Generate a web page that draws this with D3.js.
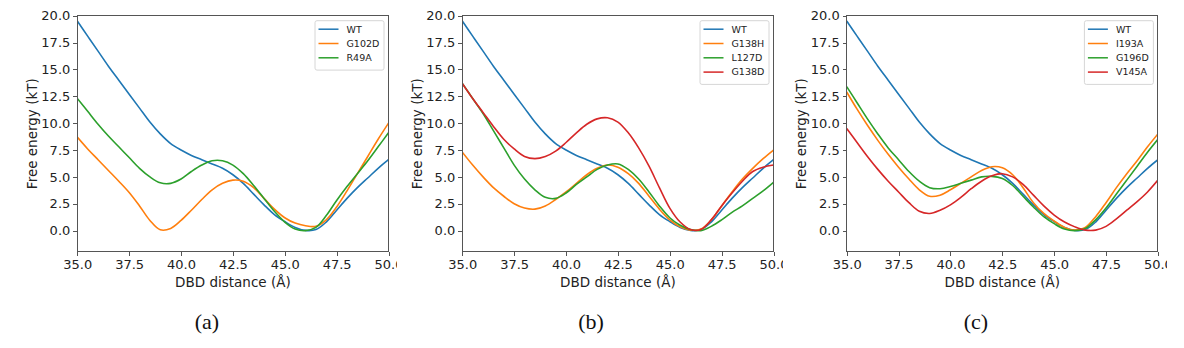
<!DOCTYPE html>
<meta charset="utf-8">
<style>
    body {
        margin: 0;
        background-color: #fff;
    }
    .axis text {
        font: 13px "DejaVu Sans", sans-serif;
        fill: #222;
    }
    .axis path,
    .axis line {
        fill: none;
        stroke: #555;
        stroke-width: 1px;
        shape-rendering: crispEdges;
    }
    .axis-title {
        font: 13.5px "DejaVu Sans", sans-serif;
        fill: #222;
    }
    .line {
        fill: none;
        stroke-width: 1.6px;
    }
    .legend text {
        font: 9.5px "DejaVu Sans", sans-serif;
        fill: #222;
    }
    .caption {
        font: 22px "Liberation Serif", serif;
        fill: #111;
    }
</style>
<body>
<script src="https://d3js.org/d3.v7.min.js"></script>
<script>
    // x grid (DBD distance, Å)
    var distance = [35, 35.5, 36, 36.5, 37, 37.5, 38, 38.5, 39, 39.5, 40, 40.5, 41, 41.5, 42, 42.5,
        43, 43.5, 44, 44.5, 45, 45.5, 46, 46.5, 47, 47.5, 48, 48.5, 49, 49.5, 50];

    var xTicks = [35, 37.5, 40, 42.5, 45, 47.5, 50];
    var yTicks = [0, 2.5, 5, 7.5, 10, 12.5, 15, 17.5, 20];

    // free energy (kT)
    var wt = [19.5, 18.1, 16.7, 15.3, 14.0, 12.7, 11.4, 10.1, 9.0, 8.1, 7.5, 7.0, 6.6, 6.2, 5.8, 5.2,
        4.4, 3.4, 2.4, 1.5, 0.85, 0.3, 0.02, 0.1, 0.8, 1.9, 3.0, 4.0, 4.9, 5.8, 6.6];
    var g102d = [8.7, 7.6, 6.6, 5.6, 4.6, 3.55, 2.3, 0.95, 0.08, 0.2, 0.95, 1.9, 2.9, 3.8, 4.4, 4.7,
        4.6, 4.0, 3.0, 2.0, 1.2, 0.7, 0.45, 0.4, 1.0, 2.2, 3.7, 5.3, 6.9, 8.5, 10.0];
    var r49a = [12.3, 11.1, 9.9, 8.8, 7.8, 6.8, 5.8, 5.0, 4.45, 4.4, 4.8, 5.5, 6.1, 6.5, 6.5, 6.1,
        5.3, 4.2, 3.0, 1.8, 0.8, 0.15, 0.0, 0.3, 1.4, 2.8, 4.1, 5.3, 6.5, 7.8, 9.1];

    var g138h = [7.3, 6.1, 5.0, 4.0, 3.2, 2.5, 2.1, 2.0, 2.3, 2.9, 3.6, 4.4, 5.2, 5.8, 6.1, 5.9,
        5.3, 4.4, 3.2, 2.0, 1.0, 0.35, 0.05, 0.15, 1.0, 2.3, 3.6, 4.8, 5.8, 6.7, 7.5];
    var l127d = [13.7, 12.3, 10.9, 9.3, 7.7, 6.1, 4.8, 3.8, 3.1, 3.0, 3.5, 4.3, 5.0, 5.7, 6.1, 6.2,
        5.7, 4.8, 3.6, 2.3, 1.2, 0.5, 0.1, 0.0, 0.4, 1.0, 1.7, 2.3, 3.0, 3.7, 4.5];
    var g138d = [13.7, 12.3, 11.0, 9.7, 8.5, 7.6, 6.9, 6.7, 6.9, 7.4, 8.2, 9.1, 9.9, 10.4, 10.5, 10.1,
        9.1, 7.7, 6.0, 4.0, 2.1, 0.8, 0.1, 0.1, 1.0, 2.3, 3.5, 4.6, 5.5, 5.9, 6.1];

    var i193a = [12.9, 11.3, 9.8, 8.4, 7.1, 5.9, 4.8, 3.8, 3.2, 3.3, 3.8, 4.4, 5.0, 5.6, 5.95, 5.85,
        5.2, 4.0, 2.6, 1.6, 0.9, 0.3, 0.05, 0.3, 1.3, 2.6, 4.0, 5.3, 6.5, 7.8, 9.0];
    var g196d = [13.4, 11.9, 10.4, 9.0, 7.7, 6.6, 5.5, 4.6, 4.0, 3.9, 4.1, 4.4, 4.7, 5.0, 5.05, 4.85,
        4.2, 3.2, 2.2, 1.3, 0.65, 0.15, 0.0, 0.2, 1.0, 2.1, 3.4, 4.7, 6.0, 7.3, 8.5];
    var v145a = [9.5, 8.2, 6.9, 5.7, 4.6, 3.6, 2.6, 1.8, 1.6, 1.9, 2.4, 3.1, 3.9, 4.6, 5.1, 5.3,
        5.0, 4.3, 3.3, 2.3, 1.45, 0.8, 0.35, 0.05, 0.05, 0.4, 1.1, 1.9, 2.7, 3.6, 4.7];

    var panelA = [{name: "WT", values: wt}, {name: "G102D", values: g102d}, {name: "R49A", values: r49a}];
    var panelB = [{name: "WT", values: wt}, {name: "G138H", values: g138h}, {name: "L127D", values: l127d}, {name: "G138D", values: g138d}];
    var panelC = [{name: "WT", values: wt}, {name: "I193A", values: i193a}, {name: "G196D", values: g196d}, {name: "V145A", values: v145a}];

    var captions = ["(a)", "(b)", "(c)"];
    var colors = ["#1f77b4", "#ff7f0e", "#2ca02c", "#d62728"];

    var svg = d3.select("body").append("svg")
        .attr("width", 1184)
        .attr("height", 348);

    var width = 311.2,
        height = 236;

    var panels = [
        {series: panelA, left: 77.3, clip: [17, 397], cx: 207},
        {series: panelB, left: 462.3, clip: [400, 783], cx: 591},
        {series: panelC, left: 846.7, clip: [785, 1167], cx: 976}
    ];

    panels.forEach(function(p, k) {
        svg.append("clipPath")
            .attr("id", "clip" + k)
            .append("rect")
            .attr("x", p.clip[0]).attr("y", 0)
            .attr("width", p.clip[1] - p.clip[0]).attr("height", 348);

        svg.append("clipPath")
            .attr("id", "plot" + k)
            .append("rect")
            .attr("width", width).attr("height", height);

        var outer = svg.append("g").attr("clip-path", "url(#clip" + k + ")");
        var g = outer.append("g")
            .attr("transform", "translate(" + p.left + ",15.7)");

        var x = d3.scaleLinear().domain([35, 50]).range([0, width]);
        var y = d3.scaleLinear().domain([-1.96, 20]).range([height, 0]);

        var line = d3.line()
            .curve(d3.curveCatmullRom.alpha(0.5))
            .x(function(d, i) { return x(distance[i]); })
            .y(function(d) { return y(d); });

        g.append("g")
            .attr("class", "axis axis--x")
            .attr("transform", "translate(0," + height + ")")
            .call(d3.axisBottom(x).tickValues(xTicks).tickFormat(d3.format(".1f")).tickSize(4).tickPadding(4.5))
            .select(".domain").remove();

        g.append("g")
            .attr("class", "axis axis--y")
            .call(d3.axisLeft(y).tickValues(yTicks).tickFormat(d3.format(".1f")).tickSize(4).tickPadding(3))
            .select(".domain").remove();

        var plot = g.append("g").attr("clip-path", "url(#plot" + k + ")");
        plot.selectAll(".line")
            .data(p.series)
            .enter().append("path")
            .attr("class", "line")
            .attr("stroke", function(d, i) { return colors[i]; })
            .attr("d", function(d) { return line(d.values); });

        g.append("rect")
            .attr("width", width)
            .attr("height", height)
            .attr("fill", "none")
            .attr("stroke", "#555")
            .attr("shape-rendering", "crispEdges");

        g.append("text")
            .attr("class", "axis-title")
            .attr("x", width / 2)
            .attr("y", height + 35.5)
            .attr("text-anchor", "middle")
            .text("DBD distance (Å)");

        g.append("text")
            .attr("class", "axis-title")
            .attr("transform", "translate(-45," + height / 2 + ") rotate(-90)")
            .attr("dy", "0.35em")
            .attr("text-anchor", "middle")
            .text("Free energy (kT)");

        // legend
        var lw = 69, lh = 3.5 + p.series.length * 14.3 + 3;
        var legend = g.append("g")
            .attr("class", "legend")
            .attr("transform", "translate(" + (width - 4.5 - lw) + ",5)");
        legend.append("rect")
            .attr("width", lw).attr("height", lh)
            .attr("rx", 2)
            .attr("fill", "#fff").attr("fill-opacity", 0.8)
            .attr("stroke", "#d6d6d6");
        var item = legend.selectAll(".item")
            .data(p.series)
            .enter().append("g")
            .attr("transform", function(d, i) { return "translate(0," + (8.5 + i * 14.3) + ")"; });
        item.append("line")
            .attr("x1", 3.5).attr("x2", 23.5)
            .attr("stroke", function(d, i) { return colors[i]; })
            .attr("stroke-width", 1.5);
        item.append("text")
            .attr("x", 31.5)
            .attr("dy", "0.35em")
            .text(function(d) { return d.name; });

        svg.append("text")
            .attr("class", "caption")
            .attr("x", p.cx)
            .attr("y", 329)
            .attr("text-anchor", "middle")
            .text(captions[k]);
    });
</script>
</body>
